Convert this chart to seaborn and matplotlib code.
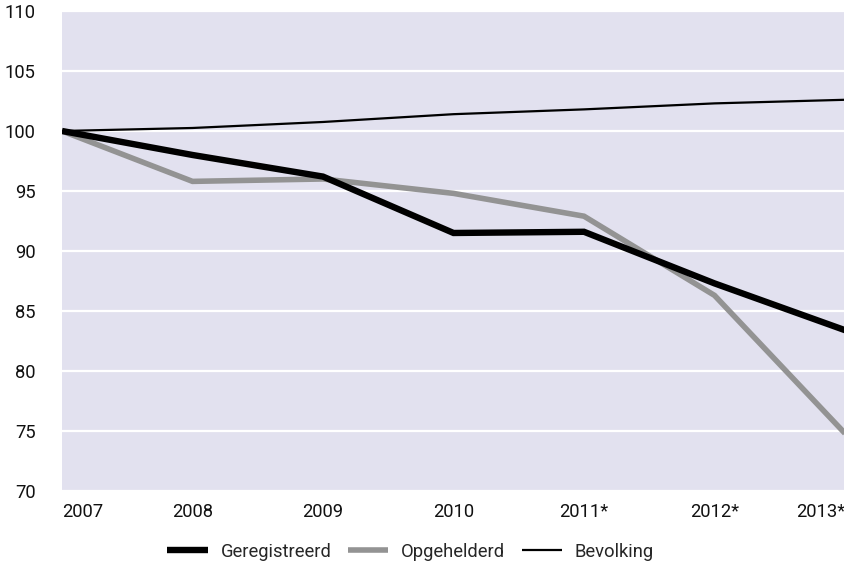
import matplotlib
matplotlib.use("Agg")
import matplotlib.pyplot as plt
import seaborn as sns
import pandas as pd

# Index figures (2007 = 100)
years = ["2007", "2008", "2009", "2010", "2011*", "2012*", "2013*"]
geregistreerd = [100, 98.0, 96.2, 91.5, 91.6, 87.3, 83.4]
opgehelderd = [100, 95.8, 96.0, 94.8, 92.9, 86.3, 74.8]
bevolking = [100, 100.25, 100.75, 101.4, 101.8, 102.3, 102.6]

y_ticks = [70, 75, 80, 85, 90, 95, 100, 105, 110]

sns.set_theme(style="darkgrid")
plt.rcParams["font.family"] = ["Roboto", "DejaVu Sans"]

fig = plt.figure(figsize=(8.45, 5.63), dpi=100)
ax = fig.add_axes([0.0734, 0.1279, 0.9266, 0.8526])
ax.set_facecolor("#E2E1EF")

pos = list(range(len(years)))
df = pd.DataFrame({
    "pos": pos * 3,
    "waarde": geregistreerd + opgehelderd + bevolking,
    "reeks": ["Geregistreerd"] * 7 + ["Opgehelderd"] * 7 + ["Bevolking"] * 7,
})

styles = {
    "Geregistreerd": dict(color="#000000", lw=4.6),
    "Opgehelderd": dict(color="#939393", lw=4.0),
    "Bevolking": dict(color="#000000", lw=1.6),
}
# draw gray first so black lies on top where they cross
for name in ["Opgehelderd", "Geregistreerd", "Bevolking"]:
    sub = df[df["reeks"] == name]
    sns.lineplot(data=sub, x="pos", y="waarde", ax=ax, label=name,
                 color=styles[name]["color"], linewidth=styles[name]["lw"],
                 solid_capstyle="butt", solid_joinstyle="miter", legend=False)

ax.set_xlim(0, len(years) - 1)
ax.set_ylim(70, 110)
ax.set_yticks(y_ticks)
ax.set_xticks(pos)
ax.set_xticklabels(years)
ax.grid(axis="x", visible=False)
ax.grid(axis="y", color="white", linewidth=1.6)
ax.set_xlabel("")
ax.set_ylabel("")
for s in ax.spines.values():
    s.set_visible(False)
ax.tick_params(axis="both", length=0, labelsize=13.2, colors="#111111")
ax.tick_params(axis="y", pad=19)
ax.tick_params(axis="x", pad=9)
xl = ax.get_xticklabels()
xl[0].set_horizontalalignment("left")
xl[-1].set_horizontalalignment("right")

handles, labels = ax.get_legend_handles_labels()
order = [labels.index(n) for n in ["Geregistreerd", "Opgehelderd", "Bevolking"]]
fig.legend([handles[i] for i in order], [labels[i] for i in order],
           loc="center", bbox_to_anchor=(0.486, 0.02), ncol=3, frameon=False,
           fontsize=13.2, handlelength=2.2, columnspacing=0.9, handletextpad=0.7)

fig.savefig("out.png", dpi=100)
